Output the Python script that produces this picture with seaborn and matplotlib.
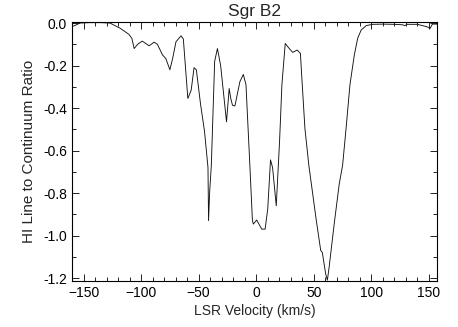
import matplotlib
matplotlib.use("Agg")
import matplotlib.pyplot as plt
import seaborn as sns
import pandas as pd
from matplotlib.ticker import MultipleLocator

velocity = [-160, -157, -153, -145, -135, -127, -118, -110.6, -108, -106, -103, -99, -93, -88.7,
            -85.8, -81.4, -78.5, -75, -72.6, -69.7, -65.3, -63.3, -59.4, -56.5, -54, -52, -48.4,
            -44.9, -41.9, -41.4, -40.5, -39, -36.1, -33.7, -30.9, -27.3, -25.8, -23.5, -22.1,
            -20.6, -18.5, -14.2, -11.2, -8.9, -5.4, -3.3, -2.5, 0.4, 4.8, 7.7, 10, 12.4, 14.2,
            17.4, 20.3, 22.3, 25.2, 28.7, 31.7, 35.5, 38.4, 39.3, 42.3, 45.7, 48.7, 52.2, 56,
            57.4, 60.3, 61.8, 63.3, 67.7, 72.1, 75, 78, 81.4, 85.2, 88.1, 91.1, 95.5, 101,
            110, 120, 127, 129, 131, 140, 148, 151, 153, 157]
ratio = [-0.017, -0.01, 0.0, 0.002, 0.002, 0.0, -0.025, -0.053, -0.072, -0.12, -0.10, -0.085,
         -0.107, -0.09, -0.10, -0.15, -0.167, -0.22, -0.167, -0.088, -0.06, -0.075, -0.355,
         -0.316, -0.21, -0.22, -0.38, -0.51, -0.68, -0.93, -0.80, -0.67, -0.18, -0.12, -0.20,
         -0.387, -0.465, -0.308, -0.355, -0.387, -0.39, -0.276, -0.242, -0.29, -0.685, -0.93,
         -0.946, -0.927, -0.97, -0.97, -0.875, -0.644, -0.68, -0.86, -0.553, -0.29, -0.096,
         -0.12, -0.138, -0.127, -0.143, -0.23, -0.497, -0.67, -0.79, -0.93, -1.07, -1.08,
         -1.18, -1.21, -1.15, -0.946, -0.757, -0.67, -0.497, -0.29, -0.15, -0.072, -0.033,
         -0.012, -0.006, -0.005, -0.006, -0.008, -0.012, -0.006, -0.006, -0.017, -0.025,
         -0.005, -0.005]

title = "Sgr B2"
xlabel = "LSR Velocity (km/s)"
ylabel = "HI Line to Continuum Ratio"

df = pd.DataFrame({"v": velocity, "r": ratio})

sns.set_style("ticks")
plt.rcParams["font.family"] = ["Liberation Sans", "DejaVu Sans"]

fig = plt.figure(figsize=(4.58, 3.27), dpi=100)
ax = fig.add_axes([72/458, 1 - 281/327, (437-72)/458, (281-22)/327])
sns.lineplot(data=df, x="v", y="r", ax=ax, color="#111111", linewidth=0.65, sort=False,
             estimator=None)
ax.set_xlim(-160, 157)
ax.set_ylim(-1.214, 0.005)
ax.xaxis.set_major_locator(MultipleLocator(50))
ax.xaxis.set_minor_locator(MultipleLocator(10))
ax.yaxis.set_major_locator(MultipleLocator(0.2))
ax.yaxis.set_minor_locator(MultipleLocator(0.1))
ax.yaxis.set_major_formatter(matplotlib.ticker.FormatStrFormatter("%.1f"))
ax.tick_params(which="both", direction="in", top=True, right=True, labelsize=10,
               width=0.6, colors="black")
ax.tick_params(which="major", length=5)
ax.tick_params(which="minor", length=3)
for s in ax.spines.values():
    s.set_linewidth(0.8)
    s.set_color("black")
ax.set_title(title, fontsize=12.5, pad=4)
ax.set_xlabel(xlabel, fontsize=10, labelpad=3)
ax.set_ylabel(ylabel, fontsize=11, labelpad=5)
fig.savefig("out.png", dpi=100)
